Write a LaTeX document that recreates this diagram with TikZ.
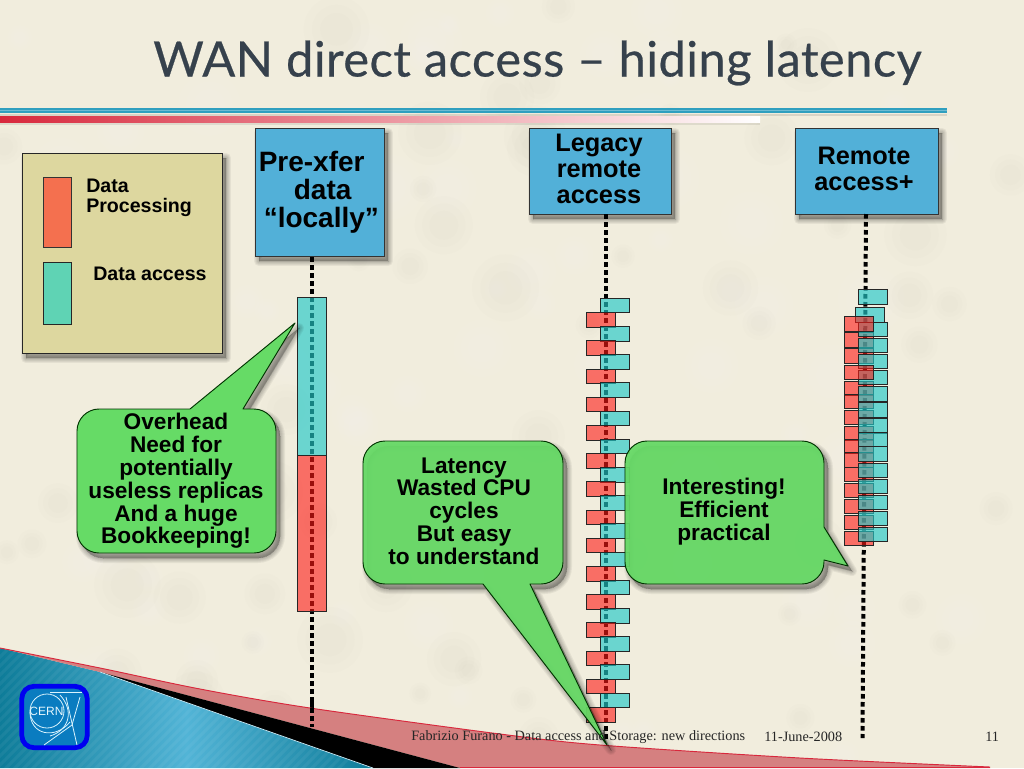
\documentclass[tikz,border=0pt]{standalone}
\usepackage{fontspec}
\setmainfont{Liberation Sans}
\newfontfamily\titlefont[LetterSpace=1,FakeBold=0.5]{Lato}
\newfontfamily\footfont{Liberation Serif}
\usetikzlibrary{calc}
\definecolor{bgc}{HTML}{F1EDDD}
\definecolor{boxblue}{HTML}{52B0D8}
\definecolor{legendc}{HTML}{DDD79F}
\definecolor{procc}{HTML}{FF1A15}
\definecolor{accc}{HTML}{22C9C9}
\definecolor{legred}{HTML}{F4704F}
\definecolor{legteal}{HTML}{5FD3B4}
\definecolor{green1}{HTML}{66DB66}
\definecolor{pinkc}{HTML}{D58080}
\definecolor{redl}{HTML}{D8283C}
\definecolor{tealdark}{HTML}{0E7C99}
\definecolor{teallight}{HTML}{52B4D6}
\definecolor{titlec}{HTML}{36414C}
\definecolor{rulet}{HTML}{2F9FBF}
\newcommand\softshadow[1]{%
  \foreach \w in {0,1.5,3,4.5,6,7.5}{%
    \path[fill=black,draw=black,line width=\w pt,opacity=.05,shift={(4,5)},line join=round] #1;}}
\def\calloutA{(99,409) -- (190,409) -- (295,323) -- (243,409) -- (254,409) .. controls (266,409) and (276,419) .. (276,431) -- (276,531) .. controls (276,543) and (266,553) .. (254,553) -- (99,553) .. controls (87,553) and (77,543) .. (77,531) -- (77,431) .. controls (77,419) and (87,409) .. (99,409) -- cycle}
\def\calloutB{(385,441) -- (541,441) .. controls (553,441) and (563,451) .. (563,463) -- (563,562) .. controls (563,574) and (553,584) .. (541,584) -- (530,584) -- (607,745) -- (483,584) -- (385,584) .. controls (373,584) and (363,574) .. (363,562) -- (363,463) .. controls (363,451) and (373,441) .. (385,441) -- cycle}
\def\calloutC{(647,441) -- (802,441) .. controls (814,441) and (824,451) .. (824,463) -- (824,527) -- (848,566) -- (824,560) -- (824,562) .. controls (824,574) and (814,584) .. (802,584) -- (647,584) .. controls (635,584) and (625,574) .. (625,562) -- (625,463) .. controls (625,451) and (635,441) .. (647,441) -- cycle}
\tikzset{
  headbox/.style={draw=black!80,line width=.6pt,fill=boxblue,inner sep=0pt,rectangle},
  procbox/.style={draw=black!85,line width=.7pt,fill=procc,fill opacity=.6,text opacity=1,inner sep=0pt,minimum width=21.75pt,minimum height=10.9pt},
  accbox/.style={draw=black!85,line width=.7pt,fill=accc,fill opacity=.65,text opacity=1,inner sep=0pt,minimum width=21.75pt,minimum height=10.9pt},
  dotline/.style={line width=3pt,dash pattern=on 3.4pt off 2.6pt,black},
  callout/.style={draw=black!80!green,line width=.7pt,fill=green1,line join=round},
  boxtext/.style={font=\fontsize{19}{19.5}\selectfont\bfseries,align=center,inner sep=0pt},
  calltext/.style={font=\fontsize{17}{17.1}\selectfont\bfseries,align=center,inner sep=0pt},
  legtext/.style={font=\fontsize{14.7}{15.2}\selectfont\bfseries,align=left,inner sep=0pt},
  foottext/.style={font=\footfont\fontsize{10.7}{12}\selectfont,inner sep=0pt,text=black!85}
}
\begin{document}
\begin{tikzpicture}[x=0.75pt,y=-0.75pt]
\useasboundingbox (0,0) rectangle (1024,768);
\fill[bgc] (0,0) rectangle (1024,768);
% paper mottling
\pgfmathsetseed{7}
\foreach \n in {1,...,140}{
  \pgfmathsetmacro\ax{rnd*1024}\pgfmathsetmacro\ay{rnd*768}\pgfmathsetmacro\ar{10+rnd*24}
  \pgfmathsetmacro\tn{rnd<0.5?1:0}
  \ifnum\tn=1
    \foreach \k in {1,.75,.5}{\fill[white,opacity=.035] (\ax,\ay) circle[radius=\ar*\k];}
  \else
    \foreach \k in {1,.75,.5}{\fill[black!45!bgc,opacity=.012] (\ax,\ay) circle[radius=\ar*\k];}
  \fi
}
% title
\node[font=\titlefont\fontsize{36.6}{40}\selectfont,text=titlec,inner sep=0pt] (title) at (537.5,63) {WAN direct access – hiding latency};
% rules
\fill[black,opacity=.10] (0,114) rectangle (947,116);
\fill[black,opacity=.08] (0,122) rectangle (760,125);
\fill[rulet] (0,108) rectangle (947,113);
\fill[white,opacity=.3] (0,110) rectangle (947,111);
\shade[left color=redl,right color=white,middle color=redl!50!white] (0,116) rectangle (760,122);
% legend
\softshadow{(22,153) rectangle (222,353)}
\node[draw=black!85,line width=.7pt,fill=legendc,inner sep=0pt,minimum width=150pt,minimum height=150pt] (legend) at (122,253) {};
\node[draw=black!80,line width=.6pt,fill=legred,inner sep=0pt,minimum width=21pt,minimum height=53pt] (legproc) at (57,212.5) {};
\node[draw=black!85,line width=.6pt,fill=legteal,inner sep=0pt,minimum width=21pt,minimum height=46.5pt] (legacc) at (57,293) {};
\node[legtext,anchor=west] (lproc) at (86,198) {Data\\Processing};
\node[legtext,anchor=west] (lacc) at (93,274) {Data access};
% dotted connectors
\coordinate (preend) at (312,727);
\coordinate (legend2) at (605.5,740);
\coordinate (remend) at (862.5,738);
% head boxes
\softshadow{(255,128) rectangle (384,256)}
\softshadow{(529,128) rectangle (671,214)}
\softshadow{(795,128) rectangle (938,214)}
\node[headbox,minimum width=96.75pt,minimum height=96pt] (pre) at (319.5,192) {};
\node[headbox,minimum width=106.5pt,minimum height=64.5pt] (leg) at (600,171) {};
\node[headbox,minimum width=107.25pt,minimum height=64.5pt] (rem) at (866.5,171) {};
\draw[dotline] (312,257) -- (preend);
\draw[dotline] (605.5,214) -- (legend2);
\draw[dotline] (866,214) -- (remend);
\node[boxtext,align=left,font=\fontsize{21}{21}\selectfont\bfseries] (pretxt) at (321,192.5) {\hspace*{-3.25pt}Pre-xfer\\\hspace*{23.1pt}data\\\hspace*{0.5pt}“locally”};
\node[boxtext] (legtxt) at (599,169) {Legacy\\remote\\access};
\node[boxtext] (remtxt) at (864,169) {Remote\\access+};
% pre-xfer bars
\node[accbox,minimum height=118pt] (prea) at (312,376.5) {};
\node[procbox,minimum height=117pt] (prep) at (312,533) {};
% legacy stack
\foreach \i in {0,...,14}{
  \pgfmathsetmacro\ya{305.5+28.2*\i}
  \pgfmathsetmacro\yp{320+28.2*\i}
  \node[accbox] (la\i) at (614.5,\ya) {};
  \node[procbox] (lp\i) at (600.5,\yp) {};
}
% remote stack
\node[accbox] (ra) at (872.5,297) {};
\node[accbox] (rb) at (870,315) {};
\foreach \i/\yy in {1/332.7,2/348.7,4/381.3,5/394,6/410,7/426,8/439.3,9/452.7,10/467.3,11/483.3,12/499.3,13/515.3,14/531.3}{
  \node[procbox] (rp\i) at (858.5,\yy+7.25) {};
}
\foreach \i/\yy in {0/322,1/338,2/354,3/370,4/386.7,5/402.7,6/418.7,7/432,8/446.7,9/463.3,10/479.3,11/495.3,12/511.3,13/527.3}{
  \node[accbox] (rq\i) at (872.5,\yy+7.25) {};
}
\node[procbox] (rp0) at (858.5,324) {};
\node[procbox] (rp3) at (858.5,372.6) {};
% footer
\begin{scope}
  \clip (0,648) -- (100,672) -- (373,768) -- (0,768) -- cycle;
  \shade[left color=tealdark,right color=tealdark,middle color=teallight] (0,640) rectangle (373,768);
  \foreach \s in {0,9,...,480}{
    \draw[white,opacity=.05,line width=2.2pt] (\s,630) -- (\s-150,780);
  }
\end{scope}
\fill[pinkc] plot[smooth,tension=.5] coordinates {(0,648) (100,668) (200,689) (310,708) (500,734) (600,745) (800,758) (990,767)} -- (990,768) -- (460,768) -- (100,672) -- cycle;
\draw[redl,line width=.7pt] plot[smooth,tension=.5] coordinates {(0,648) (100,668) (200,689) (310,708) (500,734) (600,745) (800,758) (990,767)};
\fill[black] (100,672) -- (460,768) -- (373,768) -- cycle;
\draw[white!80!cyan,line width=.5pt] (100,672) -- (373,768);
\draw[redl,line width=.6pt] (460,767.7) -- (990,767.7);
% the dots run over the pink band
\draw[dotline] (312,700) -- (preend);
% logo
\node[draw={rgb,255:red,0;green,0;blue,240},line width=3.6pt,fill={rgb,255:red,10;green,124;blue,192},rounded corners=9pt,minimum width=49pt,minimum height=46pt,inner sep=0pt] (logo) at (54.5,717) {};
\node[text=white!90!cyan,font=\fontsize{9}{10}\selectfont,inner sep=0pt] (cern) at (46.5,711) {CERN};
\draw[white!85!cyan,line width=.6pt] (47,711) circle[radius=17];
\draw[white!85!cyan,line width=.6pt] (50,692) -- (82,692);
\draw[white!85!cyan,line width=.6pt] (80,697) -- (72,725) -- (44,745);
\draw[white!85!cyan,line width=.6pt] (66,697) -- (77,745);
\draw[white!85!cyan,line width=.6pt] (30,712) .. controls (30,735) and (55,740) .. (70,722);
\draw[white!85!cyan,line width=.6pt] (60,695) .. controls (74,710) and (70,730) .. (50,736);
% callouts
\softshadow{\calloutA}
\softshadow{\calloutB}
\softshadow{\calloutC}
\path[callout] \calloutA;
\path[callout,fill opacity=.93] \calloutB;
\path[callout,fill opacity=.93] \calloutC;
\node[calltext] (c1) at (176,481) {Overhead\\Need for\\potentially\\useless replicas\\And a huge\\Bookkeeping!};
\node[calltext] (c2) at (464,511) {Latency\\Wasted CPU\\cycles\\But easy\\to understand};
\node[calltext] (c3) at (724,511.5) {Interesting!\\Efficient\\practical};
% footer text
\node[foottext,anchor=west] (f1) at (411,737) {Fabrizio Furano - Data access and Storage: new directions};
\node[foottext,anchor=west] (f2) at (764,737) {11-June-2008};
\node[foottext,anchor=west] (f3) at (985,737) {11};
\end{tikzpicture}
\end{document}
